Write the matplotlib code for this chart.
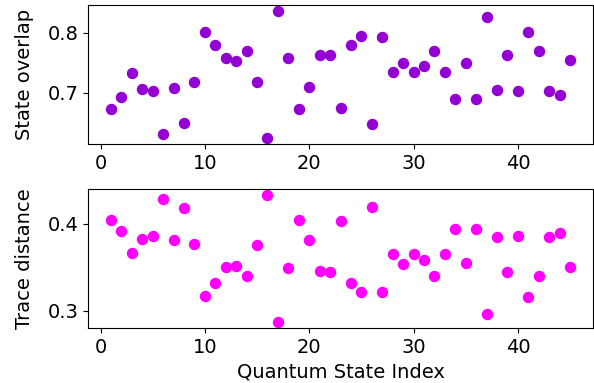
import numpy as np
import matplotlib
matplotlib.use("Agg")
import matplotlib.pyplot as plt

# quantum state indices 1..45
state_index = list(range(1, 46))

state_overlap = [
    0.672, 0.693, 0.732, 0.706, 0.703, 0.631, 0.708, 0.649, 0.717, 0.801,
    0.780, 0.757, 0.753, 0.769, 0.718, 0.625, 0.836, 0.757, 0.673, 0.710,
    0.762, 0.763, 0.675, 0.779, 0.794, 0.648, 0.793, 0.735, 0.750, 0.734,
    0.744, 0.769, 0.734, 0.689, 0.749, 0.690, 0.826, 0.705, 0.763, 0.703,
    0.801, 0.770, 0.703, 0.696, 0.754,
]

trace_distance = [
    0.405, 0.392, 0.367, 0.383, 0.386, 0.429, 0.382, 0.418, 0.377, 0.317,
    0.332, 0.350, 0.351, 0.340, 0.376, 0.433, 0.287, 0.349, 0.404, 0.381,
    0.346, 0.345, 0.403, 0.332, 0.322, 0.419, 0.322, 0.365, 0.354, 0.365,
    0.358, 0.340, 0.365, 0.394, 0.355, 0.394, 0.296, 0.385, 0.345, 0.386,
    0.316, 0.340, 0.385, 0.390, 0.350,
]

fs = 14
fig = plt.figure(figsize=(5.94, 3.83), dpi=100)
W, H = 594, 383
ax1 = fig.add_axes([88 / W, 1 - 144 / H, 505 / W, (144 - 4.7) / H])
ax2 = fig.add_axes([88 / W, 1 - 328.3 / H, 505 / W, (328.3 - 189) / H])

ax1.scatter(state_index, state_overlap, color="darkviolet", s=52)
ax1.set_ylabel("State overlap", fontsize=fs, labelpad=10)
ax1.set_yticks([0.7, 0.8])

ax2.scatter(state_index, trace_distance, color="magenta", s=52)
ax2.set_ylabel("Trace distance", fontsize=fs, labelpad=10)
ax2.set_xlabel("Quantum State Index", fontsize=fs)
ax2.set_yticks([0.3, 0.4])

for ax in (ax1, ax2):
    ax.set_xticks([0, 10, 20, 30, 40])
    ax.tick_params(labelsize=fs)

fig.savefig("out.png", dpi=100)
